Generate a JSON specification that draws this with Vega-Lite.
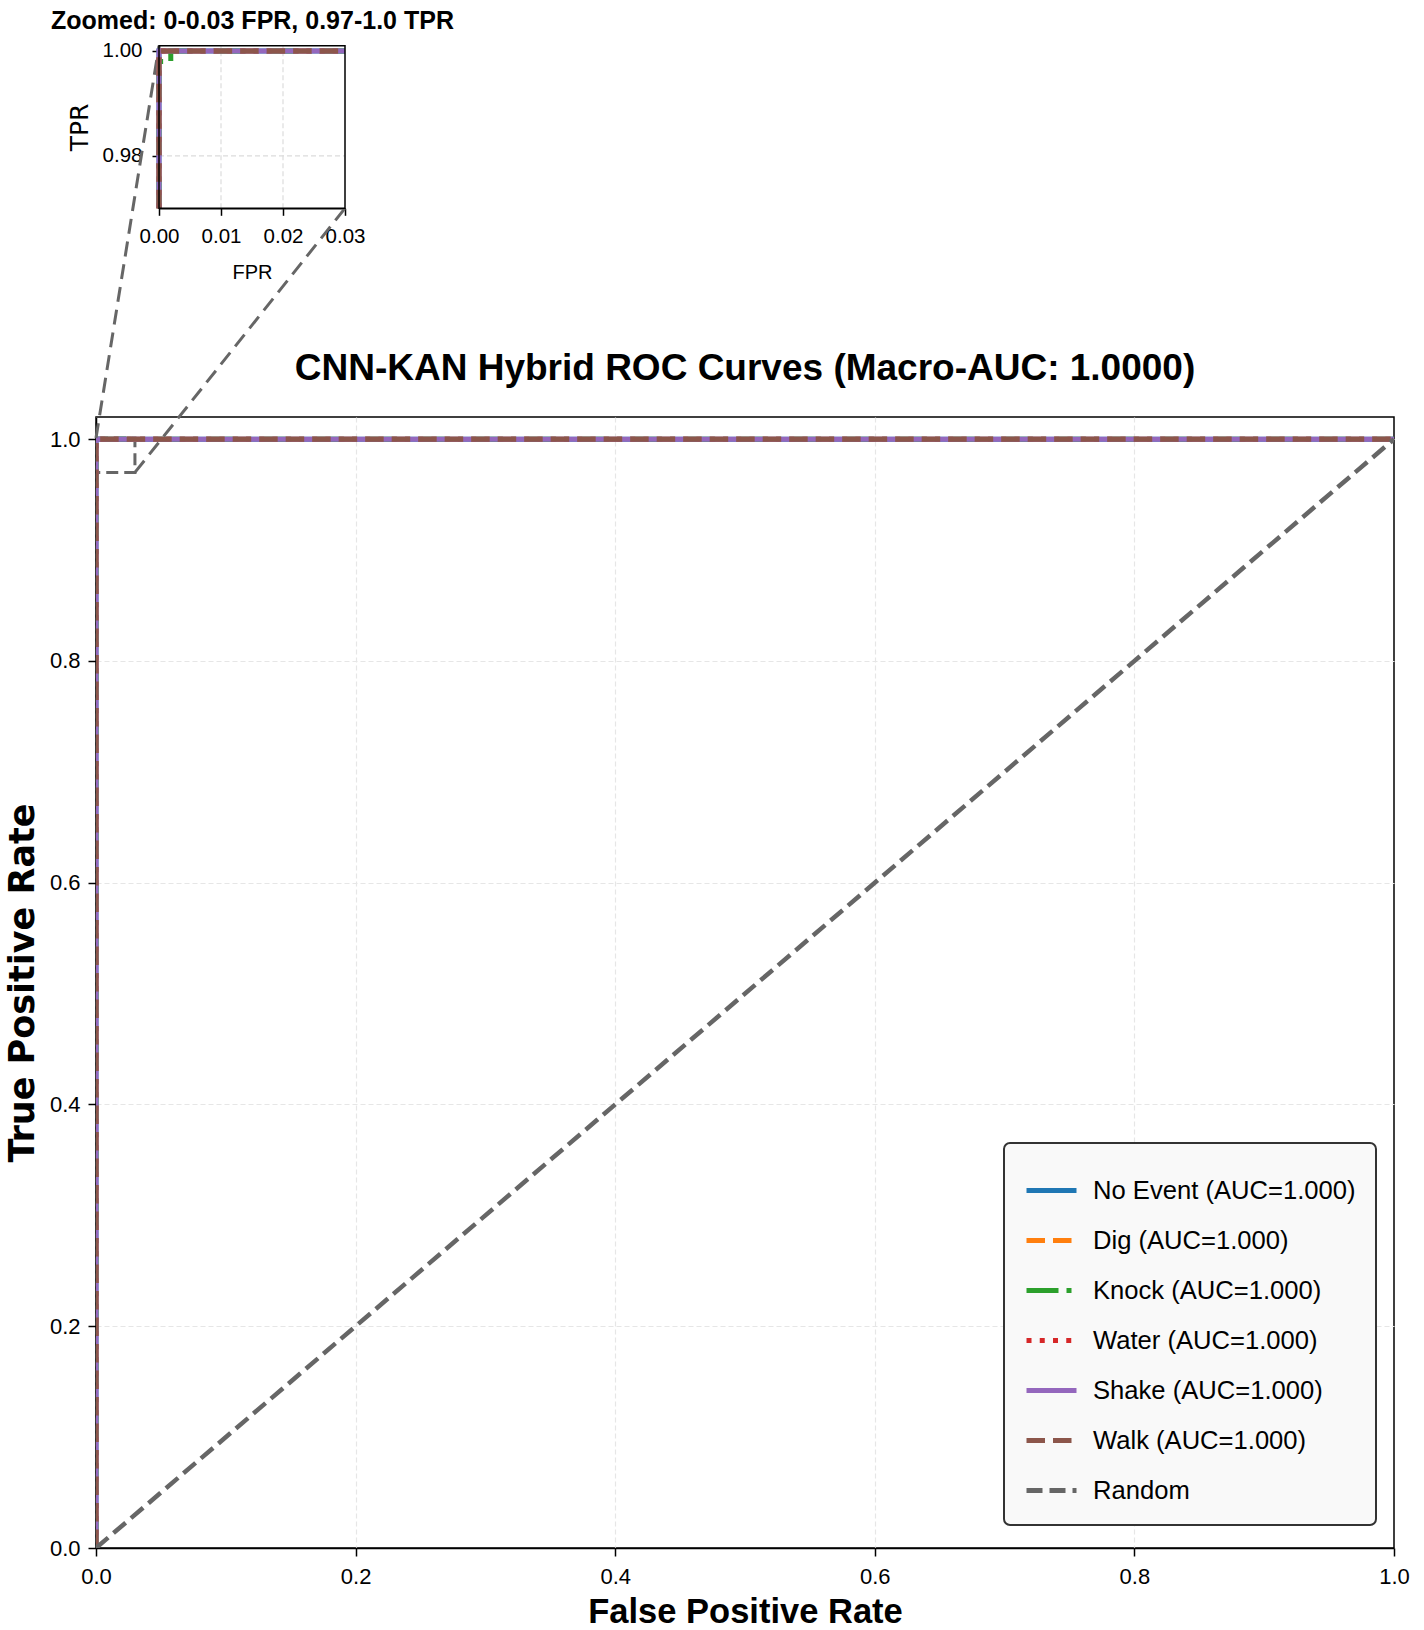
{
  "$schema": "https://vega.github.io/schema/vega-lite/v6.json",
  "width": 1298,
  "height": 1131,
  "autosize": {"type": "none"},
  "padding": {"left": 96, "top": 417, "right": 30, "bottom": 82},
  "background": "white",
  "title": {
    "text": "CNN-KAN Hybrid ROC Curves (Macro-AUC: 1.0000)",
    "font": "Liberation Sans",
    "fontSize": 37,
    "fontWeight": "bold",
    "color": "black",
    "frame": "group",
    "anchor": "middle",
    "baseline": "alphabetic",
    "offset": -408.5
  },
  "datasets": {
    "roc": [
      {"curve": "No Event (AUC=1.000)", "i": 0, "fpr": 0, "tpr": 0},
      {"curve": "No Event (AUC=1.000)", "i": 1, "fpr": 0, "tpr": 1},
      {"curve": "No Event (AUC=1.000)", "i": 2, "fpr": 1, "tpr": 1},
      {"curve": "Dig (AUC=1.000)", "i": 0, "fpr": 0, "tpr": 0},
      {"curve": "Dig (AUC=1.000)", "i": 1, "fpr": 0, "tpr": 1},
      {"curve": "Dig (AUC=1.000)", "i": 2, "fpr": 1, "tpr": 1},
      {"curve": "Knock (AUC=1.000)", "i": 0, "fpr": 0, "tpr": 0},
      {"curve": "Knock (AUC=1.000)", "i": 1, "fpr": 0, "tpr": 0.998},
      {"curve": "Knock (AUC=1.000)", "i": 2, "fpr": 0.0019, "tpr": 0.998},
      {"curve": "Knock (AUC=1.000)", "i": 3, "fpr": 0.0019, "tpr": 1},
      {"curve": "Knock (AUC=1.000)", "i": 4, "fpr": 1, "tpr": 1},
      {"curve": "Water (AUC=1.000)", "i": 0, "fpr": 0, "tpr": 0},
      {"curve": "Water (AUC=1.000)", "i": 1, "fpr": 0, "tpr": 1},
      {"curve": "Water (AUC=1.000)", "i": 2, "fpr": 1, "tpr": 1},
      {"curve": "Shake (AUC=1.000)", "i": 0, "fpr": 0, "tpr": 0},
      {"curve": "Shake (AUC=1.000)", "i": 1, "fpr": 0, "tpr": 1},
      {"curve": "Shake (AUC=1.000)", "i": 2, "fpr": 1, "tpr": 1},
      {"curve": "Walk (AUC=1.000)", "i": 0, "fpr": 0, "tpr": 0},
      {"curve": "Walk (AUC=1.000)", "i": 1, "fpr": 0, "tpr": 1},
      {"curve": "Walk (AUC=1.000)", "i": 2, "fpr": 1, "tpr": 1}
    ],
    "chance": [
      {"curve": "Random", "i": 0, "fpr": 0, "tpr": 0},
      {"curve": "Random", "i": 1, "fpr": 1, "tpr": 1}
    ],
    "window": [{"fpr0": 0, "fpr1": 0.03, "tpr0": 0.97, "tpr1": 1.001}],
    "links": [
      {"fpr": 0, "tpr": 1.001, "fpr2": 0.04854, "tpr2": 1.35486},
      {"fpr": 0.03, "tpr": 0.97, "fpr2": 0.19183, "tpr2": 1.20822}
    ],
    "insetGridX": [{"fpr": 0.01}, {"fpr": 0.02}],
    "insetGridY": [{"tpr": 0.98}, {"tpr": 1.0}]
  },
  "config": {
    "view": {"stroke": "black", "strokeWidth": 1.5},
    "axis": {
      "domainColor": "black",
      "domainWidth": 1.5,
      "tickColor": "black",
      "tickWidth": 1.5,
      "labelColor": "black",
      "titleColor": "black",
      "labelFont": "Liberation Sans",
      "titleFont": "Liberation Sans",
      "labelFlush": false,
      "labelOverlap": false,
      "grid": false,
      "minExtent": 0
    },
    "legend": {
      "padding": 20,
      "fillColor": "#f9f9f9",
      "strokeColor": "#333333",
      "strokeWidth": 2,
      "cornerRadius": 6,
      "rowPadding": 8,
      "labelFont": "Liberation Sans",
      "labelFontSize": 25.6,
      "labelColor": "black",
      "labelOffset": 14,
      "labelLimit": 500,
      "symbolType": "stroke",
      "symbolSize": 2500,
      "symbolStrokeWidth": 5
    }
  },
  "layer": [
    {
      "layer": [
        {
          "data": {"name": "window"},
          "mark": {"type": "rect", "fillOpacity": 0, "stroke": "#666666", "strokeWidth": 3, "strokeDash": [12, 6], "clip": true},
          "encoding": {
            "x": {"field": "fpr0", "type": "quantitative"},
            "x2": {"field": "fpr1"},
            "y": {"field": "tpr0", "type": "quantitative"},
            "y2": {"field": "tpr1"}
          }
        },
        {
          "data": {"name": "roc"},
          "mark": {"type": "line", "strokeWidth": 5, "clip": true},
          "encoding": {
            "x": {
              "field": "fpr", "type": "quantitative",
              "scale": {"domain": [0, 1], "nice": false, "zero": false},
              "axis": {
                "orient": "bottom", "title": "False Positive Rate",
                "values": [0, 0.2, 0.4, 0.6, 0.8, 1], "format": ".1f",
                "grid": true, "gridColor": "#e6e6e6", "gridDash": [5, 3], "gridWidth": 1.2,
                "gridOpacity": {"condition": {"test": "datum.value >= 1", "value": 0}, "value": 1},
                "labelFontSize": 22, "tickSize": 8, "labelPadding": 10.6,
                "titleFontSize": 34.5, "titleFontWeight": "bold",
                "titleBaseline": "alphabetic", "titlePadding": 34.5
              }
            },
            "y": {
              "field": "tpr", "type": "quantitative",
              "scale": {"domain": [0, 1.02], "nice": false, "zero": false},
              "axis": {
                "orient": "left", "title": "True Positive Rate",
                "values": [0, 0.2, 0.4, 0.6, 0.8, 1], "format": ".1f",
                "grid": true, "gridColor": "#e6e6e6", "gridDash": [5, 3], "gridWidth": 1.2,
                "labelFontSize": 22, "tickSize": 8, "labelPadding": 8,
                "titleFont": "DejaVu Sans", "titleFontSize": 35, "titleFontWeight": "bold",
                "titleBaseline": "alphabetic", "titlePadding": 16
              }
            },
            "order": {"field": "i"},
            "color": {
              "field": "curve", "type": "nominal",
              "scale": {
                "domain": ["No Event (AUC=1.000)", "Dig (AUC=1.000)", "Knock (AUC=1.000)", "Water (AUC=1.000)", "Shake (AUC=1.000)", "Walk (AUC=1.000)", "Random"],
                "range": ["#1f77b4", "#ff7f0e", "#2ca02c", "#d62728", "#9467bd", "#8c564b", "#666666"]
              },
              "legend": {"title": null, "orient": "none", "legendX": 908, "legendY": 726}
            },
            "strokeDash": {
              "field": "curve", "type": "nominal",
              "scale": {
                "domain": ["No Event (AUC=1.000)", "Dig (AUC=1.000)", "Knock (AUC=1.000)", "Water (AUC=1.000)", "Shake (AUC=1.000)", "Walk (AUC=1.000)", "Random"],
                "range": [[1, 0], [18.5, 8], [32, 8, 5, 8], [5, 8.25], [1, 0], [18.5, 8], [16, 7]]
              },
              "legend": {"title": null, "orient": "none", "legendX": 908, "legendY": 726}
            }
          }
        },
        {
          "data": {"name": "chance"},
          "mark": {"type": "line", "strokeWidth": 4.5, "clip": true},
          "encoding": {
            "x": {"field": "fpr", "type": "quantitative"},
            "y": {"field": "tpr", "type": "quantitative"},
            "order": {"field": "i"},
            "color": {"field": "curve", "type": "nominal"},
            "strokeDash": {"field": "curve", "type": "nominal"}
          }
        },
        {
          "data": {"name": "links"},
          "mark": {"type": "rule", "stroke": "#666666", "strokeWidth": 3, "strokeDash": [15, 8], "clip": false},
          "encoding": {
            "x": {"field": "fpr", "type": "quantitative"},
            "y": {"field": "tpr", "type": "quantitative"},
            "x2": {"field": "fpr2"},
            "y2": {"field": "tpr2"}
          }
        }
      ]
    },
    {
      "layer": [
        {
          "data": {"name": "insetGridX"},
          "mark": {"type": "rule", "stroke": "#dcdcdc", "strokeWidth": 1.2, "strokeDash": [5, 3], "clip": false},
          "encoding": {
            "x": {"field": "fpr", "type": "quantitative", "axis": null},
            "y": {"datum": 0.97, "axis": null},
            "y2": {"datum": 1.001}
          }
        },
        {
          "data": {"name": "insetGridY"},
          "mark": {"type": "rule", "stroke": "#dcdcdc", "strokeWidth": 1.2, "strokeDash": [5, 3], "clip": false},
          "encoding": {
            "y": {"field": "tpr", "type": "quantitative", "axis": null},
            "x": {"datum": 0, "axis": null},
            "x2": {"datum": 0.03}
          }
        },
        {
          "data": {"name": "roc"},
          "mark": {"type": "line", "strokeWidth": 5, "clip": false},
          "encoding": {
            "x": {
              "field": "fpr", "type": "quantitative",
              "scale": {"domain": [0, 0.03], "range": [63, 249], "clamp": true, "nice": false, "zero": false},
              "axis": {
                "orient": "bottom", "offset": -1339.7, "title": "FPR",
                "values": [0, 0.01, 0.02, 0.03], "format": ".2f",
                "labelFontSize": 20.5, "tickSize": 7, "labelPadding": 11.2,
                "titleFontSize": 20, "titleFontWeight": "normal",
                "titleBaseline": "alphabetic", "titlePadding": 31
              }
            },
            "y": {
              "field": "tpr", "type": "quantitative",
              "scale": {"domain": [0.97, 1.001], "range": [-208.7, -371.3], "clamp": true, "nice": false, "zero": false},
              "axis": {
                "orient": "left", "offset": -63, "title": "TPR",
                "values": [0.98, 1.0], "format": ".2f",
                "labelFontSize": 20.5, "tickSize": 7, "labelPadding": 10,
                "titleFont": "DejaVu Sans", "titleFontSize": 25, "titleFontWeight": "normal",
                "titleBaseline": "alphabetic", "titlePadding": 15
              }
            },
            "order": {"field": "i"},
            "color": {"field": "curve", "type": "nominal"},
            "strokeDash": {"field": "curve", "type": "nominal"}
          }
        },
        {
          "data": {"name": "window"},
          "mark": {"type": "rect", "fillOpacity": 0, "stroke": "black", "strokeWidth": 1.5, "clip": false},
          "encoding": {
            "x": {
              "field": "fpr0", "type": "quantitative",
              "axis": {
                "orient": "top", "offset": 371.3,
                "domain": false, "ticks": false, "labels": false,
                "title": "Zoomed: 0-0.03 FPR, 0.97-1.0 TPR",
                "titleFontSize": 25, "titleFontWeight": "bold",
                "titleBaseline": "alphabetic", "titlePadding": 17.7
              }
            },
            "x2": {"field": "fpr1"},
            "y": {"field": "tpr0", "type": "quantitative", "axis": null},
            "y2": {"field": "tpr1"}
          }
        }
      ],
      "resolve": {"axis": {"x": "independent", "y": "independent"}}
    }
  ],
  "resolve": {
    "scale": {"x": "independent", "y": "independent"},
    "axis": {"x": "independent", "y": "independent"}
  }
}
